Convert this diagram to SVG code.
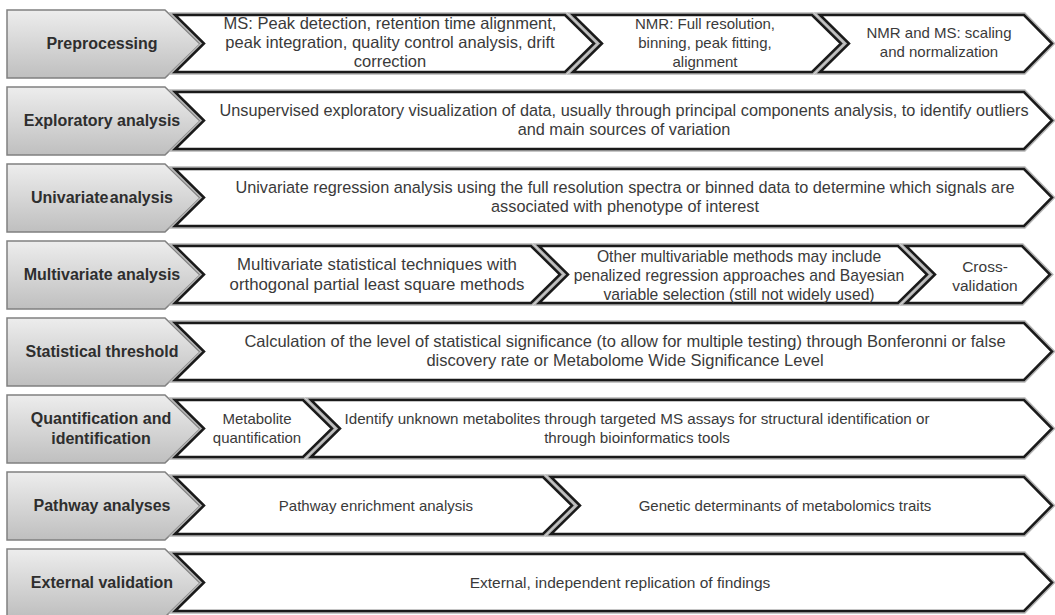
<svg xmlns="http://www.w3.org/2000/svg" width="1055" height="615" viewBox="0 0 1055 615">
<defs>
<linearGradient id="g" x1="0" y1="0" x2="0" y2="1">
<stop offset="0" stop-color="#ededed"/>
<stop offset="1" stop-color="#bfbfbf"/>
</linearGradient>
<style>
.lab{fill:url(#g);stroke:#808080;stroke-width:1.5}
.seg{fill:#fff;stroke:#1a1a1a;stroke-width:2.5;stroke-linejoin:miter}
.halo{fill:none;stroke:#b5b5b5;stroke-width:5.5;stroke-linejoin:miter}
.lt{font-family:"Liberation Sans",Arial,sans-serif;font-weight:bold;font-size:16px;fill:#2e2e2e;text-anchor:middle}
.bt{font-family:"Liberation Sans",Arial,sans-serif;font-size:15px;fill:#3a3a3a;text-anchor:middle}
</style>
</defs>
<rect width="1055" height="615" fill="#fff"/>

<g id="row1">
<polygon class="lab" points="7,10 165,10 200,44 165,78 7,78"/>
<text class="lt" x="102" y="49">Preprocessing</text>
<polygon class="halo" points="175,15 565,15 594,43.5 565,72 175,72 204,43.5"/>
<polygon class="halo" points="573,15 812,15 841,43.5 812,72 573,72 602,43.5"/>
<polygon class="halo" points="820,15 1024,15 1052,43.5 1024,72 820,72 849,43.5"/>
<polygon class="seg" points="175,15 565,15 594,43.5 565,72 175,72 204,43.5"/>
<polygon class="seg" points="573,15 812,15 841,43.5 812,72 573,72 602,43.5"/>
<polygon class="seg" points="820,15 1024,15 1052,43.5 1024,72 820,72 849,43.5"/>
<g class="bt" style="font-size:16.5px">
<text x="390" y="29">MS: Peak detection, retention time alignment,</text>
<text x="390" y="48">peak integration, quality control analysis, drift</text>
<text x="390" y="66.5">correction</text>
</g>
<text class="bt" x="705" y="29">NMR: Full resolution,</text>
<text class="bt" x="705" y="48">binning, peak fitting,</text>
<text class="bt" x="705" y="66.5">alignment</text>
<text class="bt" x="939" y="38">NMR and MS: scaling</text>
<text class="bt" x="939" y="57">and normalization</text>
</g>

<g id="row2">
<polygon class="lab" points="7,87 165,87 200,121 165,155 7,155"/>
<text class="lt" x="102" y="126">Exploratory analysis</text>
<polygon class="halo" points="175,92 1024,92 1052,120.5 1024,149 175,149 204,120.5"/>
<polygon class="seg" points="175,92 1024,92 1052,120.5 1024,149 175,149 204,120.5"/>
<g class="bt" style="font-size:16.3px">
<text x="624" y="116">Unsupervised exploratory visualization of data, usually through principal components analysis, to identify outliers</text>
<text x="624" y="135">and main sources of variation</text>
</g>
</g>

<g id="row3">
<polygon class="lab" points="7,164 165,164 200,198 165,232 7,232"/>
<text class="lt" x="102" y="203" word-spacing="-3">Univariate analysis</text>
<polygon class="halo" points="175,169 1024,169 1052,197.5 1024,226 175,226 204,197.5"/>
<polygon class="seg" points="175,169 1024,169 1052,197.5 1024,226 175,226 204,197.5"/>
<g class="bt" style="font-size:16.3px">
<text x="625" y="193">Univariate regression analysis using the full resolution spectra or binned data to determine which signals are</text>
<text x="625" y="212">associated with phenotype of interest</text>
</g>
</g>

<g id="row4">
<polygon class="lab" points="7,241 165,241 200,275 165,309 7,309"/>
<text class="lt" x="102" y="280">Multivariate analysis</text>
<polygon class="halo" points="175,246 531,246 560,274.5 531,303 175,303 204,274.5"/>
<polygon class="halo" points="539,246 898,246 927,274.5 898,303 539,303 568,274.5"/>
<polygon class="halo" points="906,246 1022,246 1050,274.5 1022,303 906,303 935,274.5"/>
<polygon class="seg" points="175,246 531,246 560,274.5 531,303 175,303 204,274.5"/>
<polygon class="seg" points="539,246 898,246 927,274.5 898,303 539,303 568,274.5"/>
<polygon class="seg" points="906,246 1022,246 1050,274.5 1022,303 906,303 935,274.5"/>
<g class="bt" style="font-size:16.8px">
<text x="377" y="270">Multivariate statistical techniques with</text>
<text x="377" y="290">orthogonal partial least square methods</text>
</g>
<g class="bt" style="font-size:15.7px">
<text x="739" y="262">Other multivariable methods may include</text>
<text x="739" y="281">penalized regression approaches and Bayesian</text>
<text x="739" y="300">variable selection (still not widely used)</text>
</g>
<g class="bt" style="font-size:15.5px">
<text x="985" y="272">Cross-</text>
<text x="985" y="291">validation</text>
</g>
</g>

<g id="row5">
<polygon class="lab" points="7,318 165,318 200,352 165,386 7,386"/>
<text class="lt" x="102" y="357">Statistical threshold</text>
<polygon class="halo" points="175,323 1024,323 1052,351.5 1024,380 175,380 204,351.5"/>
<polygon class="seg" points="175,323 1024,323 1052,351.5 1024,380 175,380 204,351.5"/>
<g class="bt" style="font-size:16.5px">
<text x="625" y="347">Calculation of the level of statistical significance (to allow for multiple testing) through Bonferonni or false</text>
<text x="625" y="366">discovery rate or Metabolome Wide Significance Level</text>
</g>
</g>

<g id="row6">
<polygon class="lab" points="7,395 165,395 200,429 165,463 7,463"/>
<text class="lt" x="101" y="424">Quantification and</text>
<text class="lt" x="101" y="444">identification</text>
<polygon class="halo" points="175,400 303,400 332,428.5 303,457 175,457 204,428.5"/>
<polygon class="halo" points="311,400 1024,400 1052,428.5 1024,457 311,457 340,428.5"/>
<polygon class="seg" points="175,400 303,400 332,428.5 303,457 175,457 204,428.5"/>
<polygon class="seg" points="311,400 1024,400 1052,428.5 1024,457 311,457 340,428.5"/>
<text class="bt" x="257" y="424">Metabolite</text>
<text class="bt" x="257" y="443">quantification</text>
<g class="bt" style="font-size:15.2px">
<text x="637" y="424">Identify unknown metabolites through targeted MS assays for structural identification or</text>
<text x="637" y="443">through bioinformatics tools</text>
</g>
</g>

<g id="row7">
<polygon class="lab" points="7,472 165,472 200,506 165,540 7,540"/>
<text class="lt" x="102" y="511">Pathway analyses</text>
<polygon class="halo" points="175,477 543,477 572,505.5 543,534 175,534 204,505.5"/>
<polygon class="halo" points="551,477 1024,477 1052,505.5 1024,534 551,534 580,505.5"/>
<polygon class="seg" points="175,477 543,477 572,505.5 543,534 175,534 204,505.5"/>
<polygon class="seg" points="551,477 1024,477 1052,505.5 1024,534 551,534 580,505.5"/>
<text class="bt" x="376" y="511">Pathway enrichment analysis</text>
<text class="bt" x="785" y="511">Genetic determinants of metabolomics traits</text>
</g>

<g id="row8">
<polygon class="lab" points="7,549 165,549 200,583 165,617 7,617"/>
<text class="lt" x="102" y="588">External validation</text>
<polygon class="halo" points="175,554 1024,554 1052,582.5 1024,611 175,611 204,582.5"/>
<polygon class="seg" points="175,554 1024,554 1052,582.5 1024,611 175,611 204,582.5"/>
<text class="bt" x="620" y="588" style="font-size:15.5px">External, independent replication of findings</text>
</g>

<g id="connectors"/>
</svg>
